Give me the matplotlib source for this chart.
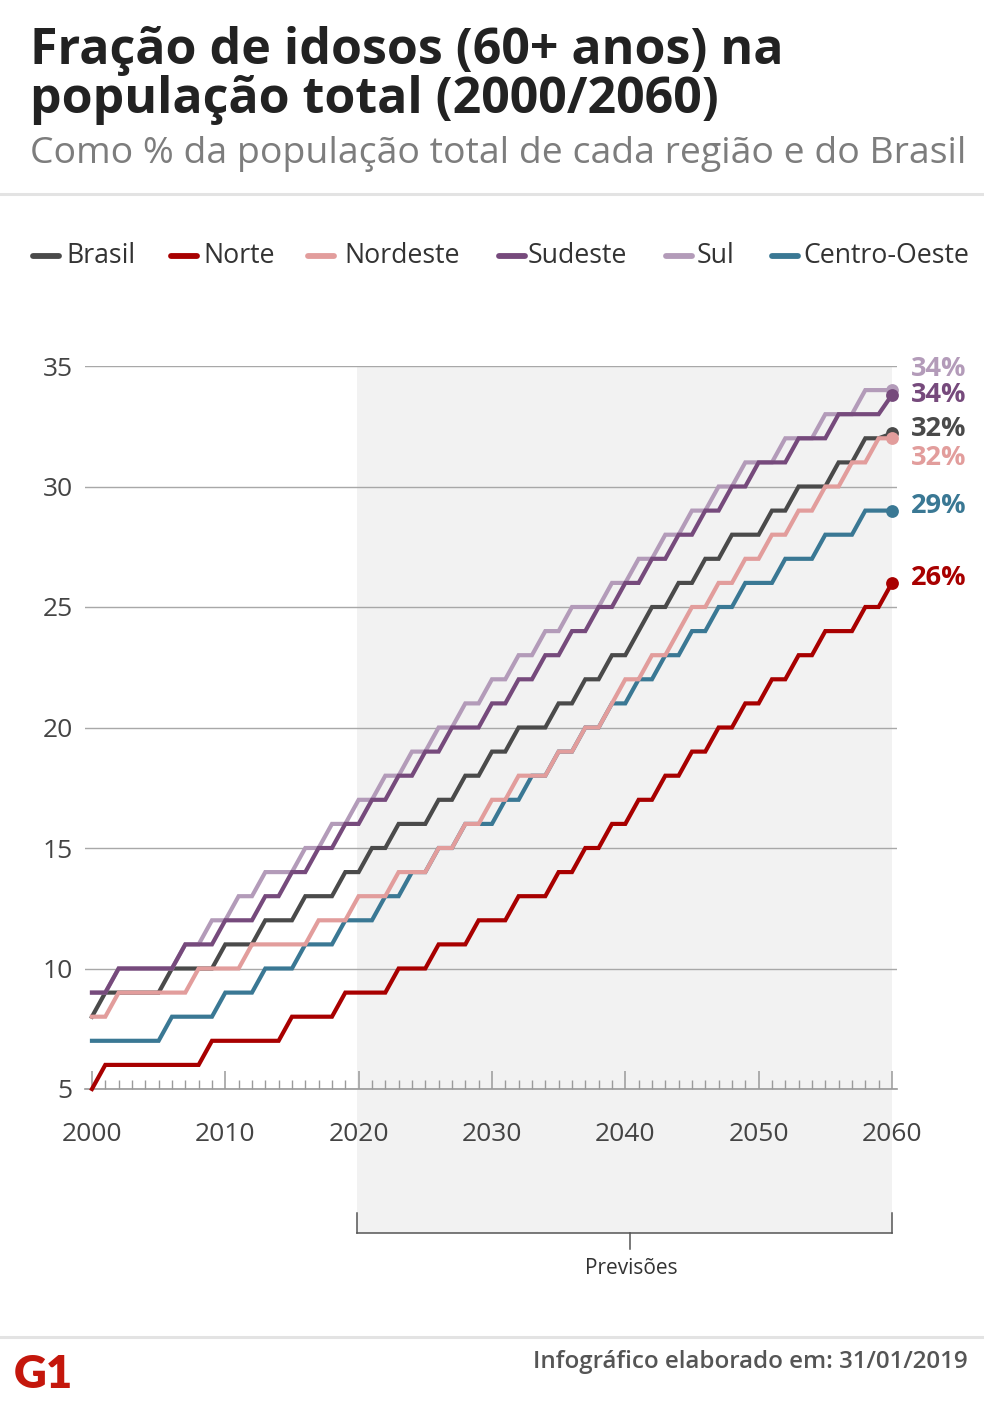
import matplotlib
matplotlib.use('Agg')
import matplotlib.pyplot as plt
from matplotlib.lines import Line2D

# ---------------- data ----------------
years = list(range(2000, 2061))

brasil = [8, 9, 9, 9, 9, 9, 10, 10, 10, 10, 11, 11, 11, 12, 12, 12, 13, 13, 13, 14, 14,
          15, 15, 16, 16, 16, 17, 17, 18, 18, 19, 19, 20, 20, 20, 21, 21, 22, 22, 23, 23,
          24, 25, 25, 26, 26, 27, 27, 28, 28, 28, 29, 29, 30, 30, 30, 31, 31, 32, 32, 32.2]
norte = [5, 6, 6, 6, 6, 6, 6, 6, 6, 7, 7, 7, 7, 7, 7, 8, 8, 8, 8, 9, 9,
         9, 9, 10, 10, 10, 11, 11, 11, 12, 12, 12, 13, 13, 13, 14, 14, 15, 15, 16, 16,
         17, 17, 18, 18, 19, 19, 20, 20, 21, 21, 22, 22, 23, 23, 24, 24, 24, 25, 25, 26]
nordeste = [8, 8, 9, 9, 9, 9, 9, 9, 10, 10, 10, 10, 11, 11, 11, 11, 11, 12, 12, 12, 13,
            13, 13, 14, 14, 14, 15, 15, 16, 16, 17, 17, 18, 18, 18, 19, 19, 20, 20, 21, 22,
            22, 23, 23, 24, 25, 25, 26, 26, 27, 27, 28, 28, 29, 29, 30, 30, 31, 31, 32, 32]
sudeste = [9, 9, 10, 10, 10, 10, 10, 11, 11, 11, 12, 12, 12, 13, 13, 14, 14, 15, 15, 16, 16,
           17, 17, 18, 18, 19, 19, 20, 20, 20, 21, 21, 22, 22, 23, 23, 24, 24, 25, 25, 26,
           26, 27, 27, 28, 28, 29, 29, 30, 30, 31, 31, 31, 32, 32, 32, 33, 33, 33, 33, 33.8]
sul = [9, 9, 10, 10, 10, 10, 10, 11, 11, 12, 12, 13, 13, 14, 14, 14, 15, 15, 16, 16, 17,
       17, 18, 18, 19, 19, 20, 20, 21, 21, 22, 22, 23, 23, 24, 24, 25, 25, 25, 26, 26,
       27, 27, 28, 28, 29, 29, 30, 30, 31, 31, 31, 32, 32, 32, 33, 33, 33, 34, 34, 34]
centro_oeste = [7, 7, 7, 7, 7, 7, 8, 8, 8, 8, 9, 9, 9, 10, 10, 10, 11, 11, 11, 12, 12,
                12, 13, 13, 14, 14, 15, 15, 16, 16, 16, 17, 17, 18, 18, 19, 19, 20, 20, 21, 21,
                22, 22, 23, 23, 24, 24, 25, 25, 26, 26, 26, 27, 27, 27, 28, 28, 28, 29, 29, 29]

series_names = ["Brasil", "Norte", "Nordeste", "Sudeste", "Sul", "Centro-Oeste"]
end_labels = ["32%", "26%", "32%", "34%", "34%", "29%"]
y_ticks = [5, 10, 15, 20, 25, 30, 35]
x_ticks = [2000, 2010, 2020, 2030, 2040, 2050, 2060]
forecast_start = 2019.9
forecast_end = 2060

title_lines = ["Fração de idosos (60+ anos) na", "população total (2000/2060)"]
subtitle = "Como % da população total de cada região e do Brasil"
bracket_label = "Previsões"
footer = "Infográfico elaborado em: 31/01/2019"

# ---------------- style ----------------
colors = {
    "Brasil": "#4a4a4a",
    "Norte": "#a80000",
    "Nordeste": "#e29d9c",
    "Sudeste": "#764a7c",
    "Sul": "#b39bb9",
    "Centro-Oeste": "#3a7894",
}
data = {"Brasil": brasil, "Norte": norte, "Nordeste": nordeste,
        "Sudeste": sudeste, "Sul": sul, "Centro-Oeste": centro_oeste}
draw_order = ["Brasil", "Norte", "Centro-Oeste", "Nordeste", "Sul", "Sudeste"]
label_dy_pt = {"Brasil": 3, "Norte": 3.5, "Nordeste": -14.5, "Sudeste": 0, "Sul": 15,
               "Centro-Oeste": 3}

FONT = "Open Sans"
W, H = 984, 1413
fig = plt.figure(figsize=(W / 100, H / 100), dpi=100)
fig.patch.set_facecolor("white")
renderer = fig.canvas.get_renderer()


def fx(x):
    return x / W


def fy(y):
    return 1 - y / H


def fit(t, target_w):
    bb = t.get_window_extent(renderer)
    t.set_fontsize(t.get_fontsize() * target_w / bb.width)
    return t.get_fontsize()


# ---------------- header ----------------
t1 = fig.text(fx(30), fy(64), title_lines[0], fontsize=30, fontweight="bold",
              family=FONT, color="#222222", va="baseline", ha="left")
fs = fit(t1, 753)
fig.text(fx(30), fy(113), title_lines[1], fontsize=fs, fontweight="bold",
         family=FONT, color="#222222", va="baseline", ha="left")
st = fig.text(fx(30), fy(163), subtitle, fontsize=20, family=FONT, color="#7d7d7d",
              va="baseline", ha="left")
fit(st, 935)

fig.add_artist(Line2D([0, 1], [fy(194), fy(194)], color="#e3e3e3", lw=2.2,
                      transform=fig.transFigure))
fig.add_artist(Line2D([0, 1], [fy(1337), fy(1337)], color="#e3e3e3", lw=2.2,
                      transform=fig.transFigure))

# ---------------- legend ----------------
leg_marker_x = {"Brasil": 33, "Norte": 171, "Nordeste": 308, "Sudeste": 499,
                "Sul": 666, "Centro-Oeste": 772}
leg_text_x = {"Brasil": 66, "Norte": 203, "Nordeste": 344, "Sudeste": 528,
              "Sul": 697, "Centro-Oeste": 803}
probe = fig.text(0, 0, "Centro-Oeste", fontsize=20, family=FONT)
leg_fs = fit(probe, 165)
probe.remove()
for name in series_names:
    mx = leg_marker_x[name]
    fig.add_artist(Line2D([fx(mx), fx(mx + 26)], [fy(256), fy(256)], color=colors[name],
                          lw=4.2, solid_capstyle="round", transform=fig.transFigure))
    fig.text(fx(leg_text_x[name]), fy(256), name, fontsize=leg_fs, family=FONT,
             color="#333333", va="center", ha="left")

# ---------------- axes ----------------
ax_left, ax_right = 85.3, 897.3
ax_top, ax_bottom = 366, 1089
ax = fig.add_axes([fx(ax_left), fy(ax_bottom), (ax_right - ax_left) / W, (ax_bottom - ax_top) / H])
ax.set_facecolor("none")
ax.set_xlim(1999.5, 2060.4)
ax.set_ylim(5, 35)

ax.axvspan(forecast_start, forecast_end, ymin=-0.199, ymax=1, color="#f2f2f2",
           zorder=0, clip_on=False, lw=0)

for s in ["top", "right", "left"]:
    ax.spines[s].set_visible(False)
ax.spines["bottom"].set_color("#9a9a9a")
ax.spines["bottom"].set_linewidth(1.2)

ax.set_yticks(y_ticks)
ax.set_yticklabels([str(v) for v in y_ticks])
ax.grid(axis="y", color="#a8a8a8", lw=1.0, zorder=1)
ax.set_xticks(x_ticks)
ax.set_xticklabels([str(v) for v in x_ticks])
ax.set_xticks(years, minor=True)
ax.tick_params(axis="y", length=0, pad=9, labelsize=19, labelcolor="#444444")
ax.tick_params(axis="x", which="major", direction="in", length=13, width=1.1,
               color="#9a9a9a", pad=24, labelsize=19, labelcolor="#444444")
ax.tick_params(axis="x", which="minor", direction="in", length=6.5, width=1.0,
               color="#9a9a9a")
for lab in ax.get_xticklabels() + ax.get_yticklabels():
    lab.set_family(FONT)

for z, name in enumerate(draw_order):
    ax.plot(years, data[name], color=colors[name], lw=3.0, zorder=3 + z,
            solid_joinstyle="miter", clip_on=False)
    ax.scatter([years[-1]], [data[name][-1]], s=85, color=colors[name],
               zorder=10 + z, clip_on=False, lw=0)

for name, lab in zip(series_names, end_labels):
    ax.annotate(lab, xy=(years[-1], data[name][-1]), xytext=(13.5, label_dy_pt[name]),
                textcoords="offset points", va="center", ha="left", color=colors[name],
                fontsize=19.5, fontweight="bold", family=FONT, annotation_clip=False)

# ---------------- bracket ----------------
bx0, bx1, bmid = 357, 892, 630
for xs, ys in [([bx0, bx0], [1213, 1233]), ([bx1, bx1], [1213, 1233]),
               ([bx0, bx1], [1233, 1233]), ([bmid, bmid], [1233, 1249])]:
    fig.add_artist(Line2D([fx(v) for v in xs], [fy(v) for v in ys], color="#555555",
                          lw=1.1, transform=fig.transFigure))
pv = fig.text(fx(631), fy(1268), bracket_label, fontsize=13, family=FONT,
              color="#333333", ha="center", va="center")
fit(pv, 92)

# ---------------- footer ----------------
g1 = fig.text(fx(14), fy(1374), "G1", fontsize=26, fontweight="heavy", family="Lato",
              color="#c4170c", ha="left", va="center")
fit(g1, 59)
ft = fig.text(fx(968), fy(1362), footer, fontsize=15, fontweight="semibold", family=FONT,
              color="#555555", ha="right", va="center")
fit(ft, 436)

fig.savefig("out.png", dpi=100, facecolor="white")
